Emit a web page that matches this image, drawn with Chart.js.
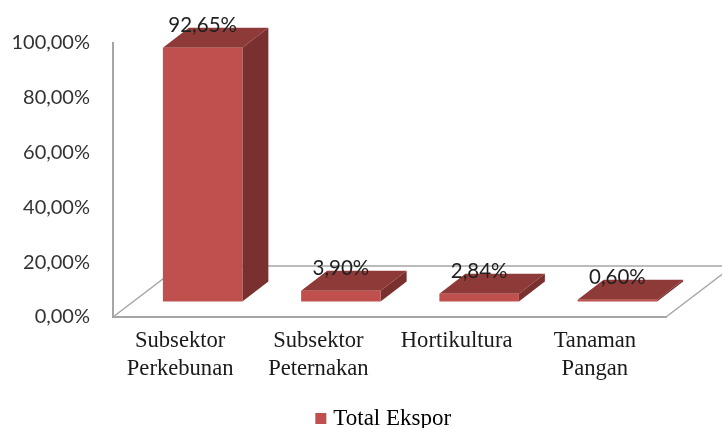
<!DOCTYPE html>
<html>
<head>
<meta charset="utf-8">
<style>
  html, body { margin: 0; padding: 0; background: #fff; }
  canvas { display: block; }
</style>
<script src="https://cdn.jsdelivr.net/npm/chart.js@4"></script>
</head>
<body>
<canvas id="myChart" width="722" height="428"></canvas>
<script>
const categories = [["Subsektor", "Perkebunan"], ["Subsektor", "Peternakan"], "Hortikultura", ["Tanaman", "Pangan"]];
const totalEkspor = [92.65, 3.90, 2.84, 0.60];
const tickValues = [0, 20, 40, 60, 80, 100];

const FRONT = "#C0504D", TOP = "#8E3A38", SIDE = "#7A302E", AXIS = "#a6a6a6";
// offsets of the fake 3d projection
const barShift = { x: 20.5, y: 15.5 };
const barDepth = { x: 26, y: 20 };
const floorDepth = { x: 67, y: 51 };

const percent = v => v.toFixed(2).replace(".", ",") + "%";

const bars3d = {
    id: "bars3d",
    afterLayout(chart) {
        // legend sits under the whole box, not under the plot only
        chart.legend.left = 105;
    },
    beforeDatasetsDraw(chart) {
        const ctx = chart.ctx;
        const a = chart.chartArea;

        // floor of the box
        ctx.save();
        ctx.strokeStyle = AXIS;
        ctx.lineWidth = 1.5;
        ctx.beginPath();
        ctx.moveTo(a.left, a.bottom);
        ctx.lineTo(a.left + floorDepth.x, a.bottom - floorDepth.y);
        ctx.lineTo(a.right + floorDepth.x, a.bottom - floorDepth.y);
        ctx.lineTo(a.right, a.bottom);
        ctx.stroke();
        ctx.restore();

        ctx.save();
        ctx.translate(barShift.x, -barShift.y);
        chart.getDatasetMeta(0).data.forEach(bar => {
            const l = bar.x - bar.width / 2, r = bar.x + bar.width / 2;
            // top
            ctx.fillStyle = TOP;
            ctx.beginPath();
            ctx.moveTo(l, bar.y);
            ctx.lineTo(l + barDepth.x, bar.y - barDepth.y);
            ctx.lineTo(r + barDepth.x, bar.y - barDepth.y);
            ctx.lineTo(r, bar.y);
            ctx.closePath();
            ctx.fill();
            // side
            ctx.fillStyle = SIDE;
            ctx.beginPath();
            ctx.moveTo(r, bar.y);
            ctx.lineTo(r + barDepth.x, bar.y - barDepth.y);
            ctx.lineTo(r + barDepth.x, bar.base - barDepth.y);
            ctx.lineTo(r, bar.base);
            ctx.closePath();
            ctx.fill();
        });
        // the bars themselves get drawn in the same shifted space
    },
    afterDatasetsDraw(chart) {
        const ctx = chart.ctx;
        ctx.restore();

        // value labels
        ctx.save();
        ctx.font = "20.5px Lato";
        ctx.fillStyle = "#1f1f1f";
        ctx.textAlign = "center";
        ctx.textBaseline = "middle";
        chart.getDatasetMeta(0).data.forEach((bar, i) => {
            ctx.fillText(percent(totalEkspor[i]), bar.x + barShift.x, bar.y - barShift.y - 22);
        });
        ctx.restore();
    }
};

const ctx = document.getElementById("myChart").getContext("2d");
new Chart(ctx, {
    type: "bar",
    data: {
        labels: categories,
        datasets: [{
            label: "Total Ekspor",
            data: totalEkspor,
            backgroundColor: FRONT,
            borderWidth: 0,
            barPercentage: 0.575,
            categoryPercentage: 1,
            clip: false
        }]
    },
    options: {
        responsive: false,
        animation: false,
        layout: { padding: { left: 0, top: 43, right: 56, bottom: -12 } },
        plugins: {
            tooltip: { enabled: false },
            legend: {
                position: "bottom",
                labels: {
                    // tiny box + thick stroke, chart.js has no option for the box-text gap
                    boxWidth: 2,
                    boxHeight: 2,
                    padding: 0,
                    color: "#1a1a1a",
                    font: { family: "'Liberation Serif'", size: 23 },
                    generateLabels: chart => [{
                        text: chart.data.datasets[0].label,
                        fillStyle: FRONT,
                        strokeStyle: FRONT,
                        lineWidth: 9,
                        datasetIndex: 0
                    }]
                }
            }
        },
        scales: {
            x: {
                afterFit(scale) { scale.height = 90; },
                grid: { display: false },
                border: { display: true, color: AXIS, width: 2 },
                ticks: {
                    padding: 3,
                    labelOffset: -2,
                    maxRotation: 0,
                    autoSkip: false,
                    color: "#1a1a1a",
                    font: { family: "'Liberation Serif'", size: 22.6, lineHeight: 1.2 }
                }
            },
            y: {
                min: 0,
                max: 100,
                afterFit(scale) { scale.width = 113; },
                afterBuildTicks(scale) { scale.ticks = tickValues.map(v => ({ value: v })); },
                grid: { display: false },
                border: { display: true, color: AXIS, width: 2 },
                ticks: {
                    padding: 15,
                    color: "#333333",
                    font: { family: "Lato", size: 20 },
                    callback: v => percent(v)
                }
            }
        }
    },
    plugins: [bars3d]
});
</script>
</body>
</html>
